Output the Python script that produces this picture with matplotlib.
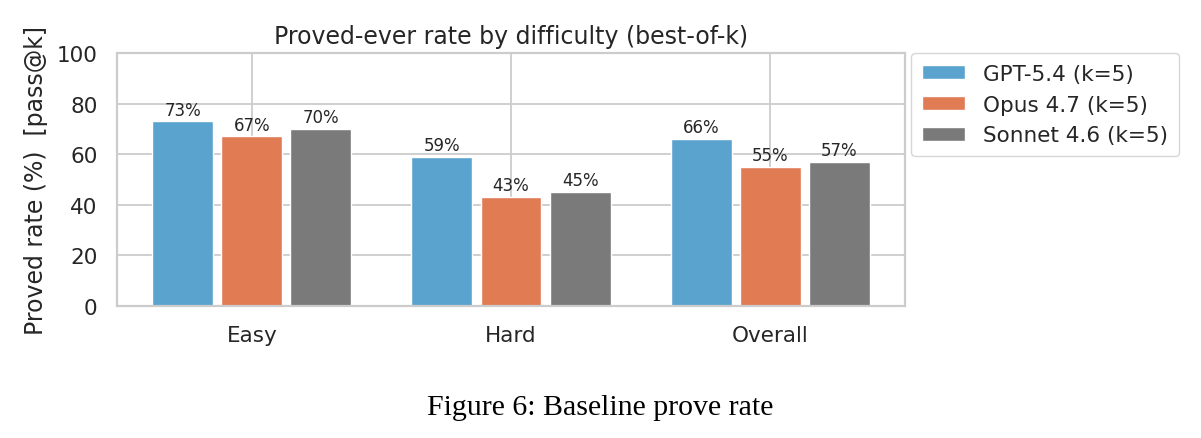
import numpy as np
import matplotlib
matplotlib.use('Agg')
import matplotlib.pyplot as plt
import seaborn as sns

# Data
categories = ['Easy', 'Hard', 'Overall']
models = ['GPT-5.4 (k=5)', 'Opus 4.7 (k=5)', 'Sonnet 4.6 (k=5)']
gpt_rate = [73, 59, 66]
opus_rate = [67, 43, 55]
sonnet_rate = [70, 45, 57]
colors = ['#5ba3cf', '#e07b54', '#7a7a7a']

sns.set_theme(style='whitegrid')
plt.rcParams['font.family'] = ['DejaVu Sans']

fig = plt.figure(figsize=(12.01, 4.39), dpi=100)
ax = fig.add_axes([117 / 1201, 1 - 307 / 439, 788 / 1201, 253 / 439])

x = np.arange(len(categories))
step = 0.8 / 3
series = [gpt_rate, opus_rate, sonnet_rate]
for i, (vals, name, col) in enumerate(zip(series, models, colors)):
    bars = ax.bar(x + (i - 1) * step, vals, width=0.235, color=col,
                  edgecolor='white', linewidth=1, label=name, zorder=2)
    for b, v in zip(bars, vals):
        ax.annotate(f'{v}%', xy=(b.get_x() + b.get_width() / 2, v),
                    xytext=(0, 2), textcoords='offset points',
                    ha='center', va='bottom', fontsize=12, color='#262626')

ax.set_ylim(0, 100)
ax.set_xlim(-0.52, 2.52)
ax.set_xticks(x)
ax.set_xticklabels(categories)
ax.set_yticks([0, 20, 40, 60, 80, 100])
ax.tick_params(axis='x', labelsize=15.5, pad=8, colors='#262626')
ax.tick_params(axis='y', labelsize=15.5, pad=8, colors='#262626')
ax.set_ylabel('Proved rate (%)  [pass@k]', fontsize=17, color='#262626', labelpad=6)
ax.set_title('Proved-ever rate by difficulty (best-of-k)', fontsize=17, color='#262626', pad=7)

ax.grid(True, color='#cccccc', linewidth=1.3)
ax.set_axisbelow(True)
for s in ax.spines.values():
    s.set_color('#cccccc')
    s.set_linewidth(1.6)

leg = ax.legend(loc='upper left', bbox_to_anchor=(1.008, 1.0), borderaxespad=0,
                fontsize=15.5, frameon=True, handlelength=2.0, handleheight=0.6,
                labelspacing=0.5, handletextpad=0.85, borderpad=0.5)
leg.get_frame().set_edgecolor('#cccccc')
for t in leg.get_texts():
    t.set_color('#262626')

fig.text(0.5, 1 - 408 / 439, 'Figure 6: Baseline prove rate', ha='center', va='center',
         fontsize=21.5, family='Liberation Serif', color='black')

fig.savefig('out.png', dpi=100)
